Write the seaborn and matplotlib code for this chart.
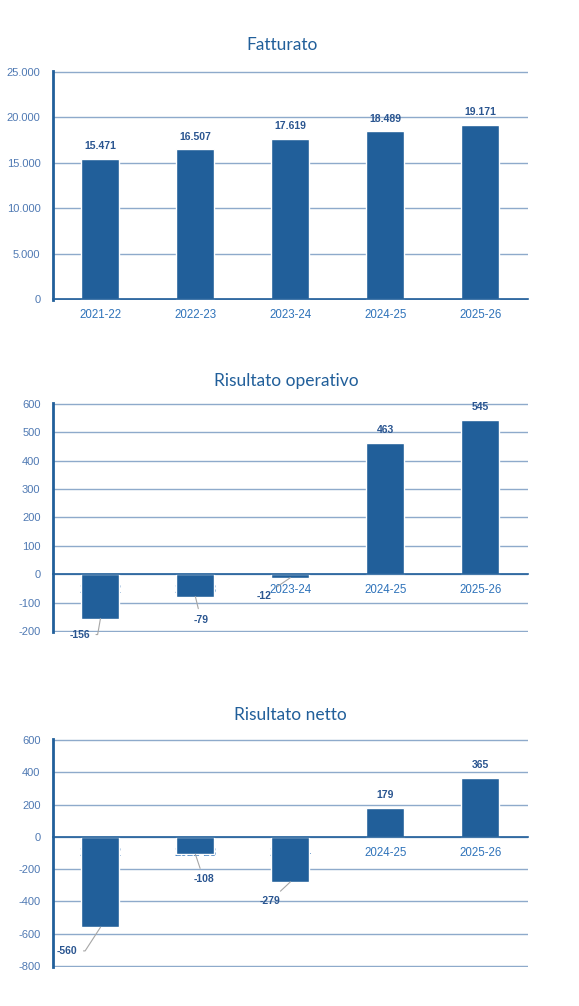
import numpy as np
import pandas as pd
import seaborn as sns
import matplotlib.pyplot as plt

# data
anni = ['2021-22', '2022-23', '2023-24', '2024-25', '2025-26']
fatturato = [15471, 16507, 17619, 18489, 19171]
ris_operativo = [-156, -79, -12, 463, 545]
ris_netto = [-560, -108, -279, 179, 365]

sns.set_theme(style='white')
plt.rcParams['font.family'] = ['Liberation Sans', 'DejaVu Sans']

BAR = '#215F9A'
GRID = '#8EAACB'
TICK = '#4F79B3'
XTICK = '#2F73BA'
LABEL = '#2A5590'


def fmt(v):
    return f'{v:,}'.replace(',', '.')


def draw(ax, values, title, ylim, step, offsets, tx, tpad):
    df = pd.DataFrame({'anno': anni, 'valore': values})
    sns.barplot(data=df, x='anno', y='valore', color=BAR, saturation=1,
                width=0.4, ax=ax, zorder=3)
    ax.set_xlabel('')
    ax.set_ylabel('')
    ax.set_xlim(-0.5, len(anni) - 0.5)
    pad = (ylim[1] - ylim[0]) * 0.004
    ax.set_ylim(ylim[0] - pad, ylim[1] + pad)
    yt = np.arange(ylim[0], ylim[1] + step, step)
    ax.set_yticks(yt)
    ax.set_yticklabels([fmt(int(t)) for t in yt])
    ax.tick_params(axis='y', length=0, pad=9, labelsize=8, labelcolor=TICK)
    ax.grid(axis='y', color=GRID, linewidth=1)
    ax.grid(axis='x', visible=False)
    ax.set_axisbelow(True)

    # category boundaries as ticks, names centred between them
    ax.set_xticks(np.arange(-0.5, len(anni), 1.0))
    ax.set_xticklabels([])
    ax.set_xticks(range(len(anni)), minor=True)
    ax.set_xticklabels(anni, minor=True)
    ax.tick_params(axis='x', which='major', length=4, width=1, color=BAR,
                   direction='out')
    ax.tick_params(axis='x', which='minor', length=0, pad=7, labelsize=8.3,
                   labelcolor=XTICK)

    for s in ['top', 'right']:
        ax.spines[s].set_visible(False)
    ax.spines['left'].set_color(BAR)
    ax.spines['left'].set_linewidth(2)
    ax.spines['bottom'].set_color(BAR)
    ax.spines['bottom'].set_linewidth(1.2)
    ax.spines['bottom'].set_position(('data', 0))
    ax.spines['bottom'].set_zorder(4)

    for i, v in enumerate(values):
        if v >= 0:
            ax.annotate(fmt(v), (i, v), xytext=(0, 9), textcoords='offset points',
                        ha='center', va='center', fontsize=7.5, fontweight='bold',
                        color=LABEL, zorder=5)
        else:
            dx, dy, ang = offsets[i]
            arrow = dict(arrowstyle='-', color='#A6A6A6', lw=0.8,
                         shrinkA=2, shrinkB=0)
            if ang is not None:
                arrow.update(relpos=(1, 0.5),
                             connectionstyle=f'angle,angleA=0,angleB={ang},rad=0')
            ax.annotate(fmt(v), (i, v), xytext=(dx, dy), textcoords='offset points',
                        ha='center', va='center', fontsize=7.5, fontweight='bold',
                        color=LABEL, zorder=5, arrowprops=arrow)

    ax.set_title(title, fontsize=12.5, color='#215F9A', pad=tpad, x=tx,
                 family=['Lato', 'DejaVu Sans'])


fig = plt.figure(figsize=(5.79, 10.06), dpi=100)
ax1 = fig.add_axes([0.0915, 0.7018, 0.820, 0.2276])
ax2 = fig.add_axes([0.0915, 0.3718, 0.820, 0.2276])
ax3 = fig.add_axes([0.0915, 0.0388, 0.820, 0.2266])

draw(ax1, fatturato, 'Fatturato', (0, 25000), 5000, {}, 0.482, 15)
draw(ax2, ris_operativo, 'Risultato operativo', (-200, 600), 100,
     {0: (-15, -11.5, 80), 1: (4, -16.5, None), 2: (-19, -13, None)}, 0.491, 12)
draw(ax3, ris_netto, 'Risultato netto', (-800, 600), 200,
     {0: (-24, -17, 57), 1: (6, -18, None), 2: (-15, -14, None)}, 0.499, 14)

fig.savefig('out.png', dpi=100)
